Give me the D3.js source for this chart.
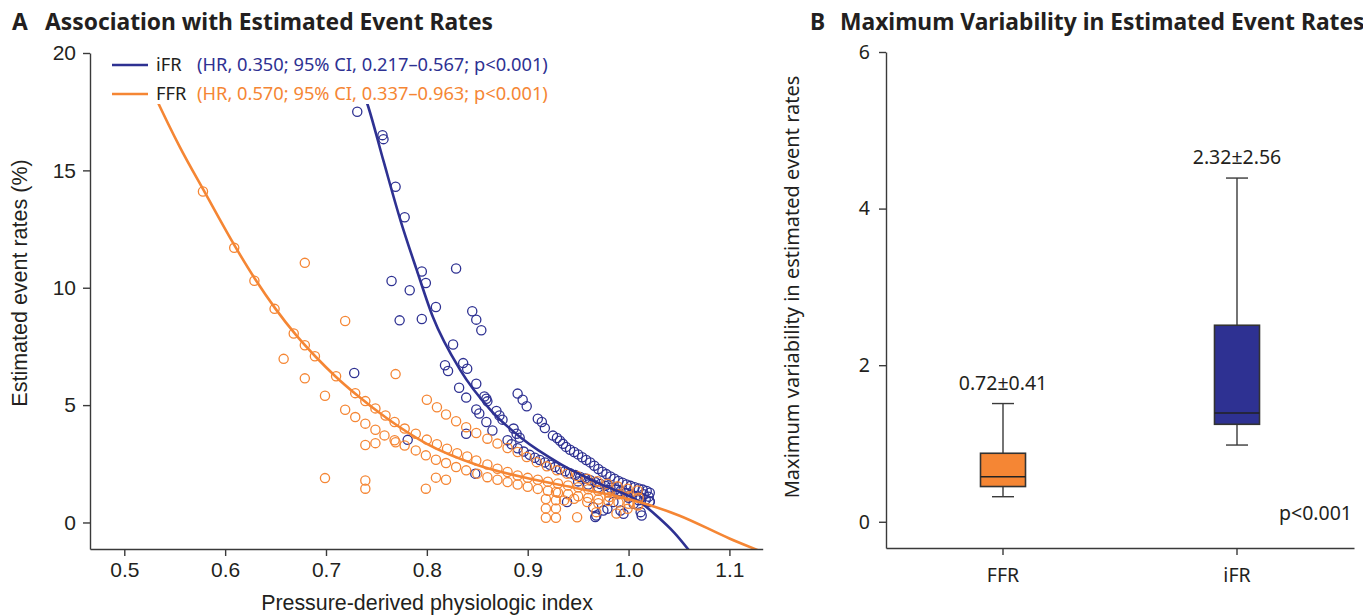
<!DOCTYPE html>
<html>
<head>
<meta charset="utf-8">
<script src="https://cdn.jsdelivr.net/npm/d3@7"></script>
<style>
  body { margin: 0; background: #fff; }
  .tick text { fill: #231f20; }
</style>
</head>
<body>
<div id="chart"></div>
<script>
// ---- panel A data: scatter points ----
const ffrPoints = [
    [0.578, 14.1], [0.609, 11.7], [0.629, 10.3], [0.649, 9.1], [0.679, 11.06], [0.668, 8.05],
    [0.719, 8.58], [0.679, 7.55], [0.689, 7.08], [0.658, 6.97], [0.710, 6.23], [0.679, 6.14],
    [0.769, 6.32], [0.699, 5.40], [0.729, 5.51], [0.739, 5.17], [0.749, 4.86],
    [0.759, 4.56], [0.768, 4.28], [0.778, 4.0], [0.789, 3.78], [0.800, 3.53], [0.810, 3.33],
    [0.820, 3.14], [0.830, 2.95], [0.840, 2.81], [0.849, 2.64], [0.860, 2.47], [0.870, 2.29],
    [0.880, 2.15], [0.890, 2.0], [0.900, 1.90], [0.910, 1.82], [0.920, 1.74], [0.930, 1.66],
    [0.940, 1.58], [0.950, 1.50], [0.960, 1.42], [0.970, 1.35], [0.980, 1.28], [0.990, 1.20],
    [1.000, 1.12], [1.010, 1.05],
    [0.800, 5.23], [0.810, 4.91], [0.819, 4.60], [0.829, 4.31], [0.839, 4.06], [0.849, 3.81],
    [0.860, 3.57], [0.870, 3.36], [0.880, 3.17], [0.890, 3.0], [0.899, 2.79], [0.909, 2.57],
    [0.919, 2.39], [0.929, 2.22], [0.939, 2.08], [0.949, 1.98], [0.959, 1.86], [0.969, 1.76],
    [0.979, 1.65], [0.989, 1.54], [0.999, 1.44], [1.009, 1.36],
    [0.719, 4.80], [0.729, 4.49], [0.739, 4.21], [0.749, 3.95], [0.758, 3.71], [0.768, 3.50],
    [0.778, 3.28], [0.789, 3.07], [0.799, 2.86], [0.809, 2.67], [0.819, 2.53], [0.829, 2.36],
    [0.839, 2.22], [0.850, 2.08], [0.860, 1.93], [0.870, 1.82], [0.880, 1.72], [0.890, 1.62],
    [0.900, 1.52], [0.910, 1.43], [0.920, 1.35], [0.930, 1.27], [0.940, 1.20], [0.950, 1.12],
    [0.960, 1.05], [0.970, 0.98], [0.980, 0.91], [0.990, 0.85], [1.000, 0.80], [1.010, 0.76],
    [0.739, 3.30], [0.749, 3.38], [0.769, 3.42], [0.699, 1.89], [0.739, 1.79], [0.739, 1.44],
    [0.809, 1.91], [0.819, 1.82], [0.799, 1.44],
    [0.918, 1.0], [0.918, 0.6], [0.918, 0.2], [0.928, 1.3], [0.928, 0.95], [0.928, 0.6], [0.928, 0.2],
    [0.949, 0.22], [0.936, 0.94], [0.946, 1.01], [0.959, 0.87], [0.970, 0.82], [0.981, 1.08],
    [0.968, 0.44], [0.988, 0.38], [0.999, 0.58], [1.009, 0.72]
];

const ifrPoints = [
    [0.731, 17.5], [0.756, 16.5], [0.757, 16.33], [0.769, 14.3], [0.778, 13.0], [0.795, 10.69],
    [0.829, 10.82], [0.765, 10.29], [0.799, 10.2], [0.783, 9.89], [0.809, 9.18], [0.845, 9.0],
    [0.849, 8.64], [0.854, 8.19], [0.773, 8.61], [0.795, 8.67], [0.826, 7.58], [0.818, 6.70],
    [0.821, 6.45], [0.836, 6.79], [0.840, 6.55], [0.849, 5.91], [0.832, 5.74], [0.839, 5.32],
    [0.857, 5.37], [0.859, 5.27], [0.860, 5.16], [0.890, 5.49], [0.895, 5.23], [0.899, 4.95],
    [0.849, 4.81], [0.852, 4.64], [0.869, 4.75], [0.872, 4.56], [0.875, 4.38], [0.859, 4.28],
    [0.865, 3.92], [0.839, 3.78], [0.910, 4.42], [0.914, 4.28], [0.917, 4.02], [0.886, 4.0],
    [0.889, 3.78], [0.892, 3.61], [0.728, 6.37], [0.781, 3.52], [0.848, 2.08],
    [0.925, 3.70], [0.929, 3.60], [0.932, 3.48], [0.935, 3.35], [0.938, 3.22], [0.942, 3.10],
    [0.946, 3.00], [0.950, 2.90], [0.954, 2.78], [0.958, 2.66], [0.962, 2.56], [0.966, 2.42],
    [0.970, 2.28], [0.974, 2.16], [0.978, 2.06], [0.982, 1.96], [0.986, 1.86], [0.990, 1.77],
    [0.994, 1.69], [0.998, 1.62], [1.002, 1.56], [1.006, 1.50], [1.010, 1.45], [1.014, 1.40],
    [1.018, 1.34], [1.021, 1.27],
    [0.880, 3.50], [0.884, 3.33], [0.890, 3.16], [0.896, 3.02], [0.902, 2.88], [0.907, 2.76],
    [0.912, 2.66], [0.917, 2.56], [0.922, 2.46], [0.927, 2.36], [0.932, 2.27], [0.937, 2.18],
    [0.942, 2.10], [0.947, 2.02], [0.952, 1.94], [0.957, 1.87], [0.962, 1.80], [0.967, 1.72],
    [0.972, 1.64], [0.977, 1.56], [0.982, 1.48], [0.987, 1.40], [0.992, 1.33], [0.997, 1.26],
    [1.002, 1.19], [1.007, 1.12], [1.012, 1.05], [1.017, 0.98], [1.021, 0.90],
    [0.950, 1.75], [0.960, 1.62], [0.970, 1.50], [0.980, 1.38], [0.990, 1.22], [1.000, 1.05],
    [1.010, 0.95], [1.020, 1.10], [1.015, 1.20],
    [0.939, 0.87], [0.965, 0.65], [0.967, 0.23], [0.968, 0.30], [0.975, 0.51], [0.979, 0.58],
    [0.985, 0.87], [0.992, 0.51], [0.995, 0.37], [1.005, 0.80], [1.012, 0.44], [1.013, 0.30],
    [1.021, 0.87]
];

// fitted curves, sampled off the figure
const ffrCurve = [
    [0.50, 21.1], [0.53, 18.2], [0.555, 16.0], [0.58, 14.05], [0.61, 11.75], [0.63, 10.35],
    [0.65, 9.1], [0.67, 8.0], [0.69, 7.05], [0.71, 6.2], [0.73, 5.45], [0.76, 4.45], [0.80, 3.35],
    [0.85, 2.45], [0.90, 1.88], [0.95, 1.45], [1.00, 1.0], [1.05, 0.3], [1.10, -0.68], [1.135, -1.3]
];
const ifrCurve = [
    [0.725, 20.5], [0.735, 18.6], [0.742, 17.7], [0.757, 15.4], [0.774, 12.85], [0.79, 10.75],
    [0.806, 8.75], [0.833, 6.5], [0.863, 4.8], [0.893, 3.62], [0.933, 2.48], [0.973, 1.62],
    [1.012, 0.85], [1.03, 0.2], [1.045, -0.42], [1.062, -1.3]
];

const xTicksA = [0.5, 0.6, 0.7, 0.8, 0.9, 1.0, 1.1];
const yTicksA = [0, 5, 10, 15, 20];

const legendRows = [
    { name: "iFR", stats: "(HR, 0.350; 95% CI, 0.217\u20130.567; p<0.001)" },
    { name: "FFR", stats: "(HR, 0.570; 95% CI, 0.337\u20130.963; p<0.001)" }
];

// ---- panel B data: box plot summaries ----
const boxGroups = ["FFR", "iFR"];
const whiskerLow = [0.32, 0.98];
const q1 = [0.45, 1.245];
const medians = [0.575, 1.39];
const q3 = [0.875, 2.51];
const whiskerHigh = [1.51, 4.39];
const meanSdLabels = ["0.72\u00b10.41", "2.32\u00b12.56"];
const yTicksB = [0, 2, 4, 6];

const blue = "#2e3192";
const orange = "#f58634";
const ink = "#231f20";
const axisInk = "#3a3a3a";
const geoFont = "'Noto Sans', 'Open Sans', sans-serif";
const armFont = "'Liberation Sans', Arial, sans-serif";

const svg = d3.select("#chart")
    .append("svg")
    .attr("width", 1363)
    .attr("height", 615);

// ================= panel A =================
const xA = d3.scaleLinear().domain([0.466, 1.133]).range([90, 762.7]);
const yA = d3.scaleLinear().domain([-1.13, 20]).range([549, 53]);

svg.append("clipPath").attr("id", "plotA")
    .append("rect")
    .attr("x", 90).attr("y", 53).attr("width", 673).attr("height", 496);

const plotA = svg.append("g").attr("clip-path", "url(#plotA)");

plotA.selectAll(".ifr-pt")
    .data(ifrPoints)
    .enter()
    .append("circle")
    .attr("class", "ifr-pt")
    .attr("cx", d => xA(d[0]))
    .attr("cy", d => yA(d[1]))
    .attr("r", 4.6)
    .attr("fill", "none")
    .attr("stroke", blue)
    .attr("stroke-width", 1.3);

plotA.selectAll(".ffr-pt")
    .data(ffrPoints)
    .enter()
    .append("circle")
    .attr("class", "ffr-pt")
    .attr("cx", d => xA(d[0]))
    .attr("cy", d => yA(d[1]))
    .attr("r", 4.6)
    .attr("fill", "none")
    .attr("stroke", orange)
    .attr("stroke-width", 1.3);

const curveLine = d3.line()
    .x(d => xA(d[0]))
    .y(d => yA(d[1]))
    .curve(d3.curveMonotoneX);

plotA.append("path")
    .datum(ifrCurve)
    .attr("d", curveLine)
    .attr("fill", "none")
    .attr("stroke", blue)
    .attr("stroke-width", 2.6);

plotA.append("path")
    .datum(ffrCurve)
    .attr("d", curveLine)
    .attr("fill", "none")
    .attr("stroke", orange)
    .attr("stroke-width", 2.6);

// legend sits on a white box over the curve tops
const legend = svg.append("g");
legend.append("rect")
    .attr("x", 96).attr("y", 50)
    .attr("width", 470).attr("height", 54)
    .attr("fill", "#fff");

legendRows.forEach(function (row, i) {
    const y = 65 + i * 29;
    const col = i === 0 ? blue : orange;
    legend.append("line")
        .attr("x1", 112).attr("x2", 148)
        .attr("y1", y).attr("y2", y)
        .attr("stroke", col)
        .attr("stroke-width", 2.6);
    legend.append("text")
        .attr("x", 156).attr("y", y + 6)
        .style("font-family", geoFont)
        .style("font-size", "18.3px")
        .attr("fill", ink)
        .text(row.name);
    legend.append("text")
        .attr("x", 197).attr("y", y + 6)
        .style("font-family", geoFont)
        .style("font-size", "18.3px")
        .attr("fill", col)
        .text(row.stats);
});

const axisA_x = svg.append("g")
    .attr("transform", "translate(0,549)")
    .call(d3.axisBottom(xA).tickValues(xTicksA).tickFormat(d3.format(".1f"))
        .tickSize(7).tickSizeOuter(0).tickPadding(6));

const axisA_y = svg.append("g")
    .attr("transform", "translate(90,0)")
    .call(d3.axisLeft(yA).tickValues(yTicksA).tickSize(7).tickSizeOuter(0).tickPadding(7));

[axisA_x, axisA_y].forEach(function (g) {
    g.selectAll("path, line").attr("stroke", axisInk).attr("stroke-width", 1.4);
    g.selectAll("text").style("font-family", armFont).style("font-size", "21px");
});

svg.append("text")
    .text("Pressure-derived physiologic index")
    .attr("x", 427).attr("y", 610)
    .attr("text-anchor", "middle")
    .style("font-family", armFont)
    .style("font-size", "21.4px")
    .attr("fill", ink);

svg.append("text")
    .text("Estimated event rates (%)")
    .attr("transform", "translate(27,283) rotate(-90)")
    .attr("text-anchor", "middle")
    .style("font-family", armFont)
    .style("font-size", "21.5px")
    .attr("fill", ink);

// panel titles
function panelTitle(letter, title, x, gap) {
    svg.append("text")
        .text(letter)
        .attr("x", x).attr("y", 30)
        .style("font-family", geoFont)
        .style("font-size", "22.8px")
        .style("font-weight", "bold")
        .attr("fill", ink);
    svg.append("text")
        .text(title)
        .attr("x", x + gap).attr("y", 30)
        .style("font-family", geoFont)
        .style("font-size", "22.8px")
        .style("font-weight", "bold")
        .attr("fill", ink);
}
panelTitle("A", "Association with Estimated Event Rates", 12, 33);
panelTitle("B", "Maximum Variability in Estimated Event Rates", 810, 30);

// ================= panel B =================
const xB = d3.scaleBand().domain(boxGroups).range([886, 1354]).padding(0);
const yB = d3.scaleLinear().domain([-0.335, 6]).range([548, 52]);
const boxW = 45, capW = 22;

const axisB_x = svg.append("g")
    .attr("transform", "translate(0,548)")
    .call(d3.axisBottom(xB).tickSize(7).tickSizeOuter(0).tickPadding(13));

const axisB_y = svg.append("g")
    .attr("transform", "translate(886,0)")
    .call(d3.axisLeft(yB).tickValues(yTicksB).tickFormat(d3.format("d"))
        .tickSize(7).tickSizeOuter(0).tickPadding(9));

[axisB_x, axisB_y].forEach(function (g) {
    g.selectAll("path, line").attr("stroke", axisInk).attr("stroke-width", 1.4);
    g.selectAll("text").style("font-family", geoFont).style("font-size", "19.5px");
});

const boxes = svg.selectAll(".box")
    .data(boxGroups)
    .enter()
    .append("g")
    .attr("class", "box");

const cx = d => xB(d) + xB.bandwidth() / 2;

boxes.append("line")
    .attr("x1", cx).attr("x2", cx)
    .attr("y1", (d, i) => yB(whiskerLow[i]))
    .attr("y2", (d, i) => yB(whiskerHigh[i]))
    .attr("stroke", axisInk).attr("stroke-width", 1.4);

boxes.selectAll(".cap")
    .data((d, i) => [[d, whiskerLow[i]], [d, whiskerHigh[i]]])
    .enter()
    .append("line")
    .attr("x1", d => cx(d[0]) - capW / 2)
    .attr("x2", d => cx(d[0]) + capW / 2)
    .attr("y1", d => yB(d[1]))
    .attr("y2", d => yB(d[1]))
    .attr("stroke", axisInk).attr("stroke-width", 1.4);

boxes.append("rect")
    .attr("x", d => cx(d) - boxW / 2)
    .attr("width", boxW)
    .attr("y", (d, i) => yB(q3[i]))
    .attr("height", (d, i) => yB(q1[i]) - yB(q3[i]))
    .attr("fill", (d, i) => i === 0 ? orange : blue)
    .attr("stroke", "#333")
    .attr("stroke-width", 1.6);

boxes.append("line")
    .attr("x1", d => cx(d) - boxW / 2)
    .attr("x2", d => cx(d) + boxW / 2)
    .attr("y1", (d, i) => yB(medians[i]))
    .attr("y2", (d, i) => yB(medians[i]))
    .attr("stroke", "#222").attr("stroke-width", 1.6);

boxes.append("text")
    .attr("x", cx)
    .attr("y", (d, i) => yB(whiskerHigh[i]) - 14)
    .attr("text-anchor", "middle")
    .style("font-family", geoFont)
    .style("font-size", "19.5px")
    .attr("fill", ink)
    .text((d, i) => meanSdLabels[i]);

svg.append("text")
    .text("p<0.001")
    .attr("x", 1352).attr("y", 520)
    .attr("text-anchor", "end")
    .style("font-family", geoFont)
    .style("font-size", "19.5px")
    .attr("fill", ink);

svg.append("text")
    .text("Maximum variability in estimated event rates")
    .attr("transform", "translate(799,287) rotate(-90)")
    .attr("text-anchor", "middle")
    .style("font-family", geoFont)
    .style("font-size", "20px")
    .attr("fill", ink);
</script>
</body>
</html>
